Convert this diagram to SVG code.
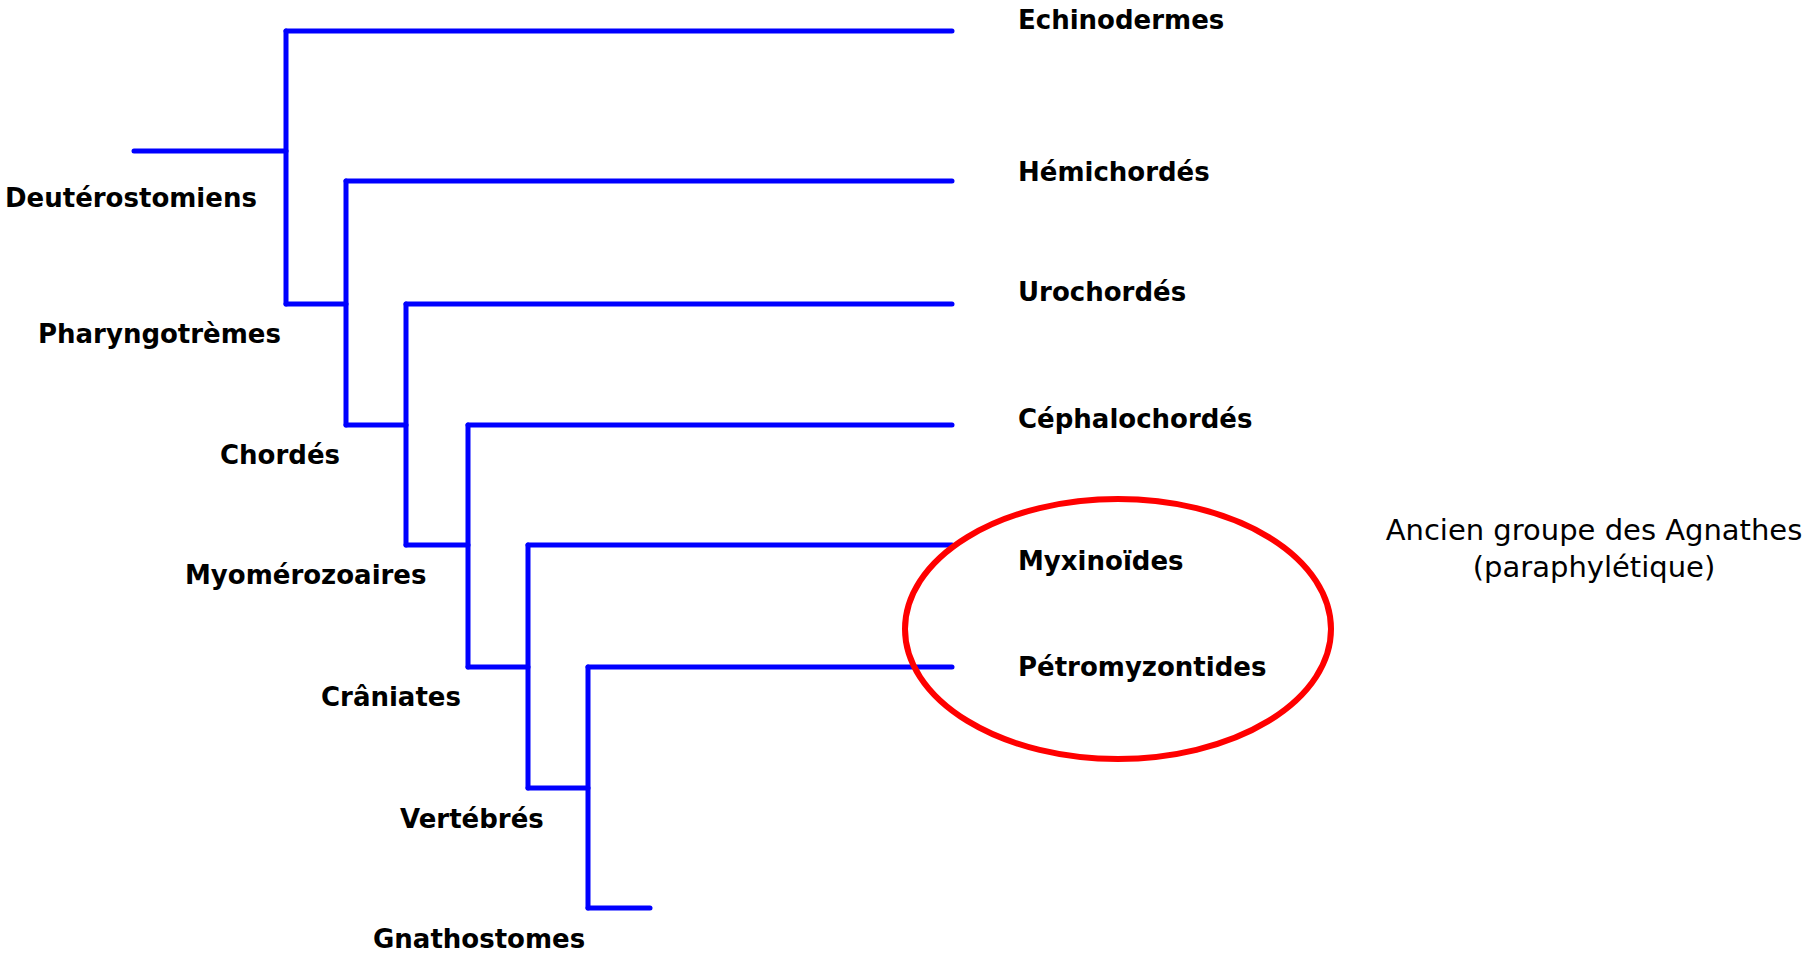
<svg xmlns="http://www.w3.org/2000/svg" width="1803" height="954" viewBox="0 0 1803 954">
<style>
.br{fill:none;stroke:#0000ff;stroke-width:5;stroke-linecap:round;stroke-linejoin:round}
.lb{font-family:"DejaVu Sans","Liberation Sans",sans-serif;font-weight:bold;font-size:26px;fill:#000}
.nt{font-family:"DejaVu Sans","Liberation Sans",sans-serif;font-size:29px;fill:#000}
</style>
<rect width="1803" height="954" fill="#fff"/>
<g id="connectors" class="br">
<path d="M134,151 H286"/>
<path d="M286,31 V304"/>
<path d="M286,31 H952"/>
<path d="M346,181 V425"/>
<path d="M346,181 H952"/>
<path d="M286,304 H346"/>
<path d="M406,304 V545"/>
<path d="M406,304 H952"/>
<path d="M346,425 H406"/>
<path d="M468,425 V667"/>
<path d="M468,425 H952"/>
<path d="M406,545 H468"/>
<path d="M528,545 V788"/>
<path d="M528,545 H952"/>
<path d="M468,667 H528"/>
<path d="M588,667 V908"/>
<path d="M588,667 H952"/>
<path d="M528,788 H588"/>
<path d="M588,908 H650"/>
</g>
<g id="agnathes-ellipse"><ellipse cx="1118" cy="629" rx="213" ry="130" fill="none" stroke="#ff0000" stroke-width="6"/></g>
<g id="n-deuterostomiens"><text class="lb" x="5" y="207">Deutérostomiens</text></g>
<g id="n-pharyngotremes"><text class="lb" x="38" y="343">Pharyngotrèmes</text></g>
<g id="n-chordes"><text class="lb" x="220" y="464">Chordés</text></g>
<g id="n-myomerozoaires"><text class="lb" x="185" y="584">Myomérozoaires</text></g>
<g id="n-craniates"><text class="lb" x="321" y="706">Crâniates</text></g>
<g id="n-vertebres"><text class="lb" x="400" y="828">Vertébrés</text></g>
<g id="n-gnathostomes"><text class="lb" x="373" y="948">Gnathostomes</text></g>
<g id="n-echinodermes"><text class="lb" x="1018" y="29">Echinodermes</text></g>
<g id="n-hemichordes"><text class="lb" x="1018" y="181">Hémichordés</text></g>
<g id="n-urochordes"><text class="lb" x="1018" y="301">Urochordés</text></g>
<g id="n-cephalochordes"><text class="lb" x="1018" y="428">Céphalochordés</text></g>
<g id="n-myxinoides"><text class="lb" x="1018" y="570">Myxinoïdes</text></g>
<g id="n-petromyzontides"><text class="lb" x="1018" y="676">Pétromyzontides</text></g>
<g id="n-agnathes-note"><text class="nt" x="1594" y="540" text-anchor="middle">Ancien groupe des Agnathes</text><text class="nt" x="1594" y="577" text-anchor="middle">(paraphylétique)</text></g>
</svg>
